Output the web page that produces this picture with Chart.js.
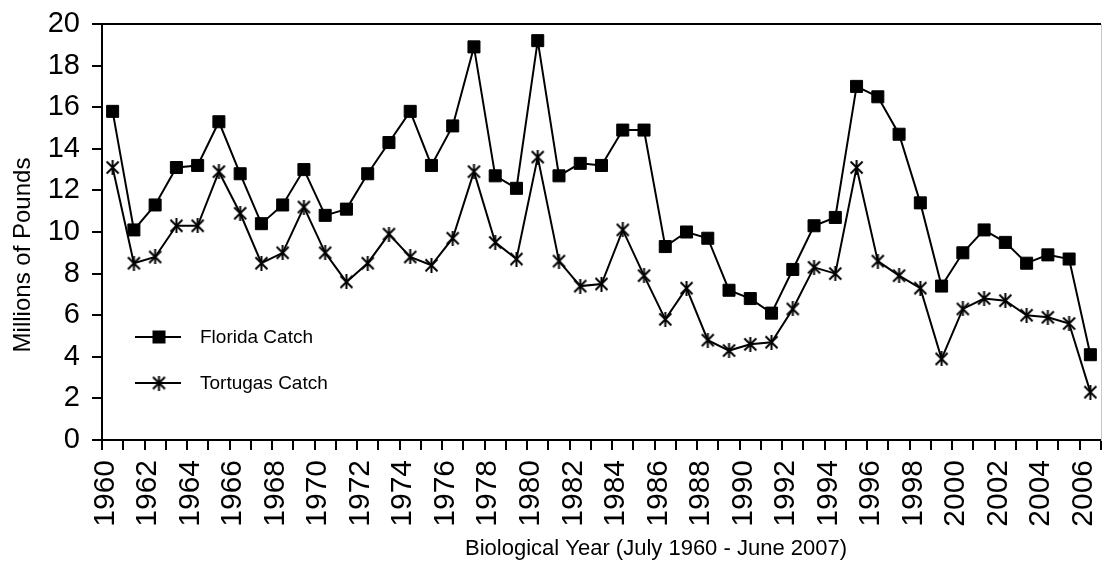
<!DOCTYPE html>
<html>
<head>
<meta charset="utf-8">
<script src="https://cdn.jsdelivr.net/npm/chart.js@4.4.1/dist/chart.umd.min.js"></script>
<style>
  html, body { margin: 0; padding: 0; background: #fff; }
</style>
</head>
<body>
<canvas id="chart" width="1102" height="561"></canvas>
<script>
// biological years, July of the year shown to June of the next
const years = ['1960','1961','1962','1963','1964','1965','1966','1967','1968','1969',
  '1970','1971','1972','1973','1974','1975','1976','1977','1978','1979',
  '1980','1981','1982','1983','1984','1985','1986','1987','1988','1989',
  '1990','1991','1992','1993','1994','1995','1996','1997','1998','1999',
  '2000','2001','2002','2003','2004','2005','2006'];

// millions of pounds
const floridaCatch = [15.8, 10.1, 11.3, 13.1, 13.2, 15.3, 12.8, 10.4, 11.3, 13.0,
  10.8, 11.1, 12.8, 14.3, 15.8, 13.2, 15.1, 18.9, 12.7, 12.1,
  19.2, 12.7, 13.3, 13.2, 14.9, 14.9, 9.3, 10.0, 9.7, 7.2,
  6.8, 6.1, 8.2, 10.3, 10.7, 17.0, 16.5, 14.7, 11.4, 7.4,
  9.0, 10.1, 9.5, 8.5, 8.9, 8.7, 4.1];

const tortugasCatch = [13.1, 8.5, 8.8, 10.3, 10.3, 12.9, 10.9, 8.5, 9.0, 11.2,
  9.0, 7.6, 8.5, 9.9, 8.8, 8.4, 9.7, 12.9, 9.5, 8.7,
  13.6, 8.6, 7.4, 7.5, 10.1, 7.9, 5.8, 7.3, 4.8, 4.3,
  4.6, 4.7, 6.3, 8.3, 8.0, 13.1, 8.6, 7.9, 7.3, 3.9,
  6.3, 6.8, 6.7, 6.0, 5.9, 5.6, 2.3];

const seriesNames = ['Florida Catch', 'Tortugas Catch'];
const yMin = 0, yMax = 20, yStep = 2;

const fontFamily = '"Liberation Sans", Arial, sans-serif';

// excel style star marker: an X with a vertical stroke
function makeStar(size) {
  const c = document.createElement('canvas');
  c.width = size;
  c.height = size;
  const g = c.getContext('2d');
  g.strokeStyle = '#000';
  g.lineWidth = 2;
  const a = 1.5, b = size - 1.5;
  g.beginPath();
  g.moveTo(a, a); g.lineTo(b, b);
  g.moveTo(b, a); g.lineTo(a, b);
  g.moveTo(size / 2, 0); g.lineTo(size / 2, size);
  g.stroke();
  return c;
}
const starMarker = makeStar(15);

function noPadding(scale) {
  scale.paddingLeft = 0;
  scale.paddingRight = 0;
  scale.paddingTop = 0;
  scale.paddingBottom = 0;
}

// legend and axis titles sit where the original figure put them
const figureText = {
  id: 'figureText',
  afterDraw(chart) {
    const ctx = chart.ctx;
    ctx.save();
    ctx.fillStyle = '#000';
    ctx.strokeStyle = '#000';

    ctx.font = '22px ' + fontFamily;
    ctx.textAlign = 'center';
    ctx.textBaseline = 'middle';
    ctx.fillText('Biological Year (July 1960 - June 2007)', 656, 549);

    ctx.save();
    ctx.font = '24px ' + fontFamily;
    ctx.translate(23, 255);
    ctx.rotate(-Math.PI / 2);
    ctx.fillText('Millions of Pounds', 0, 0);
    ctx.restore();

    const rows = [337, 383];
    ctx.font = '19px ' + fontFamily;
    ctx.textAlign = 'left';
    chart.data.datasets.forEach((ds, i) => {
      const y = rows[i];
      ctx.lineWidth = 2;
      ctx.beginPath();
      ctx.moveTo(135, y);
      ctx.lineTo(181, y);
      ctx.stroke();
      if (ds.pointStyle === 'rect') {
        ctx.fillRect(159 - 6.5, y - 6.5, 13, 13);
      } else {
        ctx.drawImage(starMarker, 159 - 7.5, y - 7.5);
      }
      ctx.fillText(ds.label, 200, y + 1);
    });
    ctx.restore();
  }
};

new Chart(document.getElementById('chart'), {
  type: 'line',
  data: {
    labels: years,
    datasets: [{
      label: seriesNames[0],
      data: floridaCatch,
      borderColor: '#000',
      borderWidth: 2,
      backgroundColor: '#000',
      pointStyle: 'rect',
      pointRadius: 8.5,
      pointBorderWidth: 1,
      pointBorderColor: '#000',
      pointBackgroundColor: '#000',
      tension: 0
    }, {
      label: seriesNames[1],
      data: tortugasCatch,
      borderColor: '#000',
      borderWidth: 2,
      pointStyle: starMarker,
      pointRadius: 8,
      tension: 0
    }]
  },
  options: {
    responsive: false,
    animation: false,
    devicePixelRatio: 1,
    layout: {
      autoPadding: false,
      padding: { top: 24, right: 1, left: 0, bottom: 0 }
    },
    plugins: {
      legend: { display: false },
      tooltip: { enabled: false }
    },
    scales: {
      x: {
        type: 'category',
        offset: true,
        grid: {
          offset: true,
          color: 'rgba(0,0,0,0)',
          tickColor: '#000',
          tickLength: 10,
          lineWidth: 2
        },
        border: { color: '#000', width: 2 },
        ticks: {
          autoSkip: false,
          maxRotation: 90,
          minRotation: 90,
          labelOffset: -7,
          padding: 10,
          color: '#000',
          font: { family: fontFamily, size: 30 },
          callback: (val, idx) => idx % 2 === 0 ? years[idx] : ''
        },
        afterFit: (scale) => {
          scale.height = 121;
          noPadding(scale);
        }
      },
      y: {
        min: yMin,
        max: yMax,
        grid: {
          color: (c) => c.tick && c.tick.value === yMax ? '#000' : 'rgba(0,0,0,0)',
          tickColor: '#000',
          tickLength: 10,
          lineWidth: 2
        },
        border: { color: '#000', width: 2 },
        ticks: {
          stepSize: yStep,
          padding: 12,
          color: '#000',
          font: { family: fontFamily, size: 29 }
        },
        afterFit: (scale) => {
          scale.width = 102;
          noPadding(scale);
        }
      },
      yRight: {
        position: 'right',
        min: yMin,
        max: yMax,
        grid: { display: false },
        ticks: { display: false },
        border: { color: '#c8c8c8', width: 1 },
        afterFit: (scale) => {
          scale.width = 0;
          noPadding(scale);
        }
      }
    }
  },
  plugins: [figureText]
});
</script>
</body>
</html>
